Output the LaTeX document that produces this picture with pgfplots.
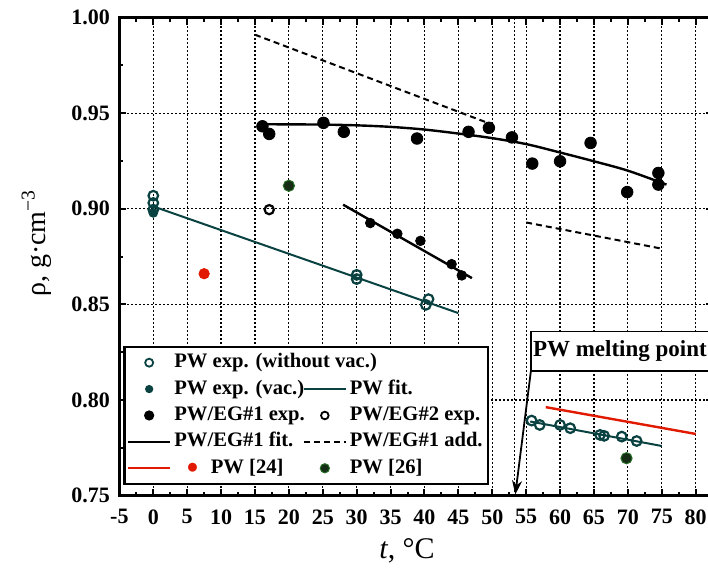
\documentclass[border=0pt]{standalone}
\usepackage{fontspec}
\setmainfont{Liberation Serif}
\usepackage{pgfplots}
\pgfplotsset{compat=1.18}
\usetikzlibrary{arrows.meta}
\definecolor{pwteal}{RGB}{10,65,65}
\definecolor{pwred}{RGB}{225,25,0}
\definecolor{pwgreen}{RGB}{20,45,20}
\definecolor{pwgreenedge}{RGB}{40,110,40}
\begin{document}
\begin{tikzpicture}
\begin{axis}[name=ax, scale only axis, width=296.6pt, height=239pt,
  at={(0,0)}, anchor=south west,
  xmin=-5, xmax=82.5, ymin=0.75, ymax=1.0,
  xtick={-5,0,...,80}, ytick={0.75,0.8,0.85,0.9,0.95,1.0},
  minor x tick num=1, minor y tick num=1,
  tick align=inside, major tick length=3.5pt, minor tick length=2pt,
  every tick/.style={black, line width=1pt},
  axis line style={line width=1.2pt},
  grid=major, major grid style={black, line width=0.6pt, dash pattern=on 0.6pt off 1.4pt},
  /pgf/number format/assume math mode=true,
  scaled y ticks=false,
  yticklabel style={/pgf/number format/fixed, /pgf/number format/fixed zerofill, /pgf/number format/precision=2, font=\bfseries\fontsize{11}{13}\selectfont, xshift=-1.2pt},
  xticklabel style={font=\bfseries\fontsize{11}{13}\selectfont, yshift=-3.5pt},
  xlabel={\textit{t}, °C}, ylabel={ρ, g·cm\textsuperscript{−3}},
  xlabel style={at={(axis description cs:0.485,-0.115)}, anchor=center, font=\fontsize{15}{17}\selectfont},
  ylabel style={at={(axis description cs:-0.14,0.528)}, anchor=center, font=\fontsize{14}{16}\selectfont},
  legend columns=2, legend cell align=left,
  legend style={at={(axis cs:-4.4,0.7555)}, anchor=south west, draw=black, line width=1.1pt, fill=white,
    font=\bfseries\fontsize{10.3}{12}\selectfont, inner sep=1.2pt,
    nodes={inner xsep=1.5pt, inner ysep=1.6pt, text height=7.5pt, text depth=2.5pt},
    /tikz/every even column/.append style={column sep=-2.5pt}},
  legend image code/.code={\draw[mark repeat=2,mark phase=2,#1] plot coordinates {(0pt,0pt) (10.5pt,0pt) (21pt,0pt)};},
]
% legend
\addlegendimage{only marks, mark=o, mark size=2pt, pwteal, line width=0.9pt}
\addlegendentry{\rlap{PW exp. (without vac.)}}
\addlegendimage{empty legend}
\addlegendentry{}
\addlegendimage{only marks, mark=*, mark size=1.8pt, pwteal, line width=0.5pt}
\addlegendentry{PW exp. (vac.)}
\addlegendimage{pwteal, line width=1pt}
\addlegendentry{PW fit.}
\addlegendimage{only marks, mark=*, mark size=2.3pt, black, line width=0.5pt}
\addlegendentry{PW/EG\#1 exp.}
\addlegendimage{only marks, mark=o, mark size=1.9pt, black, line width=0.9pt}
\addlegendentry{PW/EG\#2 exp.}
\addlegendimage{black, line width=1pt}
\addlegendentry{PW/EG\#1 fit.}
\addlegendimage{black, line width=1pt, dash pattern=on 3pt off 2pt}
\addlegendentry{PW/EG\#1 add.}
\addlegendimage{pwred, line width=1.2pt}
\addlegendentry{\hspace{6pt}\textcolor{pwred}{●}\hspace{6pt}PW [24]}
\addlegendimage{only marks, mark=*, mark size=2.3pt, draw=pwgreenedge, fill=pwgreen, line width=0.5pt}
\addlegendentry{PW [26]}

% melting point vertical line
\addplot[forget plot, black, line width=0.6pt, dash pattern=on 0.6pt off 1.4pt] coordinates {(53.3,0.75) (53.3,1.0)};

% PW/EG#1 additional (dashed)
\addplot[forget plot, black, line width=1pt, dash pattern=on 3pt off 2pt] coordinates {(15,0.991) (50,0.9440)};
\addplot[forget plot, black, line width=1pt, dash pattern=on 3pt off 2pt] coordinates {(55,0.8928) (75,0.8791)};

% PW/EG#1 fit
\addplot[forget plot, black, line width=1.2pt, smooth] coordinates {
(16,0.9442) (20,0.9441) (25,0.9440) (30,0.9436) (35,0.9428) (40,0.9414) (45,0.9393)
(50,0.9369) (55,0.9338) (60,0.9294) (65,0.9248) (70,0.9199) (75.7,0.9126)};
\addplot[forget plot, black, line width=1.2pt] coordinates {(28.0,0.9021) (47.0,0.8637)};

% PW fit
\addplot[forget plot, pwteal, line width=1pt] coordinates {(0,0.9012) (45,0.8454)};
\addplot[forget plot, pwteal, line width=1pt] coordinates {(55.6,0.7887) (75.0,0.7759)};

% PW [24]
\addplot[forget plot, pwred, line width=1.2pt] coordinates {(57.9,0.7962) (80.0,0.7822)};
\addplot[forget plot, only marks, mark=*, mark size=2.6pt, pwred] coordinates {(7.5,0.866)};

% PW/EG#1 exp.
\addplot[forget plot, only marks, mark=*, mark size=2.9pt, black] coordinates {
(16.1,0.9431) (17.1,0.9391) (25.1,0.9449) (28.1,0.9402) (38.9,0.9367) (46.5,0.9402)
(49.5,0.9423) (52.9,0.9373) (55.9,0.9236) (60.0,0.9248) (64.5,0.9344) (69.9,0.9087)
(74.5,0.9187) (74.5,0.9126)};
\addplot[forget plot, only marks, mark=*, mark size=2.4pt, black] coordinates {
(32.0,0.8925) (36.0,0.8869) (39.4,0.8832) (44.0,0.8710) (45.5,0.8651)};

% PW/EG#2 exp.
\addplot[forget plot, only marks, mark=o, mark size=2.3pt, black, line width=1.1pt] coordinates {(17.1,0.8995)};

% PW exp. (without vac.)
\addplot[forget plot, only marks, mark=o, mark size=2.4pt, pwteal, line width=1.1pt] coordinates {
(0,0.9068) (0,0.9030) (0,0.8995) (30.0,0.8654) (30.0,0.8632) (40.6,0.8527) (40.2,0.8497)
(55.8,0.7892) (57.0,0.7869) (60.0,0.7869) (61.5,0.7852) (65.9,0.7817) (66.5,0.7812)
(69.1,0.7808) (71.3,0.7785)};
% PW exp. (vac.)
\addplot[forget plot, only marks, mark=*, mark size=2.2pt, pwteal] coordinates {(0,0.8978)};

% PW [26]
\addplot[forget plot, only marks, mark=*, mark size=2.8pt, draw=pwgreenedge, fill=pwgreen, line width=0.5pt] coordinates {(20.0,0.912) (69.8,0.7695)};

% melting point label
\draw[fill=white, line width=0.9pt] (axis cs:55.7,0.8152) rectangle (axis cs:84,0.8358);
\node[anchor=west, font=\bfseries\fontsize{11.5}{13}\selectfont, inner sep=0pt] at (axis cs:55.95,0.8255) {PW melting point};
\draw[-{Stealth[length=7pt,width=5pt]}, line width=0.9pt] (axis cs:55.7,0.8152) -- (axis cs:53.4,0.7505);
\end{axis}
\pgfresetboundingbox
\path[use as bounding box] ([xshift=-59.7pt,yshift=-39.25pt]ax.south west) rectangle ([xshift=294.3pt,yshift=247.75pt]ax.south west);
\end{tikzpicture}
\end{document}
